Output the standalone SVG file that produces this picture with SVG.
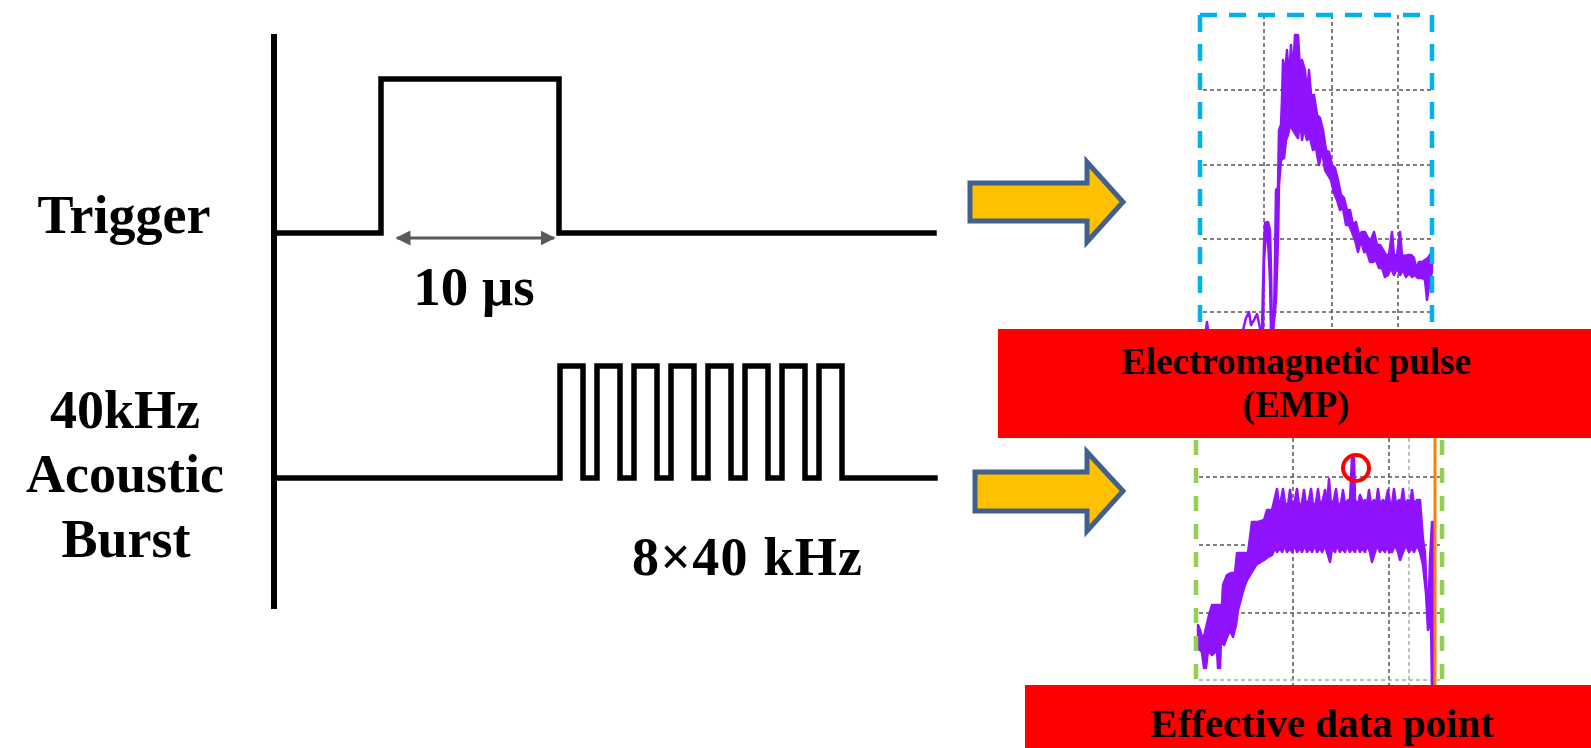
<svg xmlns="http://www.w3.org/2000/svg" width="1591" height="748" viewBox="0 0 1591 748">
<defs>
<style>
.lbl{font-family:"Liberation Serif","Times New Roman",serif;font-weight:bold;fill:#000;text-anchor:middle}
.wave{fill:none;stroke:#000;stroke-width:5.5;stroke-linejoin:miter;stroke-linecap:square}
.grid{stroke:#555;stroke-width:1.5;stroke-dasharray:4 3;fill:none}
.gridl{stroke:#aaa;stroke-width:1.5;stroke-dasharray:4 3;fill:none}
.trace{fill:#9013FE;stroke:#9013FE;stroke-width:2.5;stroke-linejoin:round}
.thin{fill:none;stroke:#9013FE;stroke-width:2.5;stroke-linejoin:round}
.bigarrow{fill:#FFC000;stroke:#41618C;stroke-width:5;stroke-linejoin:miter}
.redbox{fill:#FF0000}
</style>
<marker id="ah" viewBox="0 0 10 10" refX="9" refY="5" markerWidth="5" markerHeight="5" orient="auto-start-reverse" markerUnits="strokeWidth">
<path d="M0,0 L10,5 L0,10 z" fill="#595959"/>
</marker>
</defs>
<rect width="1591" height="748" fill="#fff"/>

<g id="timing">
<line x1="274" y1="34" x2="274" y2="609" stroke="#000" stroke-width="6"/>
<path id="trigger-wave" class="wave" d="M274,233 H381 V79 H559 V233 H934"/>
<path id="burst-wave" class="wave" d="M274,478 H560 V366 H583 V478 H597 V366 H620 V478 H634 V366 H657 V478 H671 V366 H694 V478 H708 V366 H731 V478 H745 V366 H768 V478 H782 V366 H805 V478 H819 V366 H842 V478 H935"/>
</g>

<g id="connectors">
<line x1="397" y1="238" x2="554" y2="238" stroke="#595959" stroke-width="3" marker-start="url(#ah)" marker-end="url(#ah)"/>
<path id="arrow-top" class="bigarrow" d="M970,183 H1087 V162 L1123,202 L1087,242 V221 H970 Z"/>
<path id="arrow-bottom" class="bigarrow" d="M975,472 H1087 V452 L1123,491 L1087,531 V511 H975 Z"/>
</g>

<g id="labels">
<text class="lbl" x="124" y="233" font-size="54">Trigger</text>
<text class="lbl" x="125" y="428" font-size="54">40kHz</text>
<text class="lbl" x="125" y="492" font-size="54">Acoustic</text>
<text class="lbl" x="126" y="557" font-size="54">Burst</text>
<text class="lbl" x="474" y="305" font-size="55">10 μs</text>
<text class="lbl" x="747" y="575" font-size="54" textLength="230">8×40 kHz</text>
</g>

<g id="emp-plot">
<line class="grid" x1="1264" y1="15" x2="1264" y2="330"/>
<line class="grid" x1="1332" y1="15" x2="1332" y2="330"/>
<line class="grid" x1="1398" y1="15" x2="1398" y2="330"/>
<line class="grid" x1="1203" y1="90" x2="1432" y2="90"/>
<line class="grid" x1="1203" y1="165" x2="1432" y2="165"/>
<line class="grid" x1="1203" y1="239" x2="1432" y2="239"/>
<line class="grid" x1="1203" y1="312" x2="1432" y2="312"/>
<polyline class="thin" points="1206,330 1207,322 1208,330"/>
<polyline class="thin" points="1243,330 1246,318 1249,312 1251,325 1254,320 1257,314 1260,328 1262,330"/>
<polygon class="trace" points="1262,330 1264,245 1265,223 1268,222 1270,230 1271,270 1272,333 1274,320 1275,260 1276,190 1278,188 1279,130 1281,125 1282,100 1283,60 1285,75 1287,50 1289,80 1291,45 1293,75 1295,35 1298,35 1300,70 1302,60 1305,70 1307,95 1309,70 1311,95 1314,95 1317,115 1320,118 1323,130 1326,150 1329,152 1332,165 1335,168 1338,180 1341,195 1344,198 1347,210 1350,210 1353,225 1356,222 1359,235 1362,232 1365,232 1368,238 1371,240 1374,232 1377,245 1380,245 1383,250 1386,255 1389,255 1392,232 1394,255 1397,255 1400,232 1402,255 1405,256 1408,255 1411,255 1414,258 1416,268 1419,262 1422,262 1425,260 1428,258 1430,255 1432,252 1432,272 1429,285 1427,300 1425,280 1422,278 1418,278 1415,275 1412,277 1409,273 1406,277 1403,270 1400,275 1397,268 1394,275 1391,268 1388,275 1385,277 1382,268 1379,268 1376,260 1373,262 1370,262 1367,252 1364,252 1361,240 1358,252 1355,240 1352,232 1349,225 1346,225 1343,208 1340,210 1337,200 1334,193 1331,180 1328,175 1325,170 1322,150 1319,165 1316,148 1313,150 1310,138 1307,140 1304,128 1302,140 1300,120 1298,138 1296,135 1293,130 1290,125 1288,135 1286,140 1284,158 1281,160 1279,185 1278,240 1276,300 1273,333 1271,333 1270,280 1268,240 1266,235 1264,260 1263,330"/>
<path d="M1200,15 H1432 M1200,15 V335 M1432,15 V335" fill="none" stroke="#00B0F0" stroke-width="4.5" stroke-dasharray="17 12"/>
</g>

<g id="acoustic-plot">
<line class="grid" x1="1293" y1="438" x2="1293" y2="685"/>
<line class="grid" x1="1389" y1="438" x2="1389" y2="685"/>
<line class="gridl" x1="1409" y1="438" x2="1409" y2="685"/>
<line class="grid" x1="1199" y1="477" x2="1440" y2="477"/>
<line class="grid" x1="1199" y1="545" x2="1440" y2="545"/>
<line class="grid" x1="1199" y1="613" x2="1440" y2="613"/>
<line class="gridl" x1="1199" y1="680" x2="1440" y2="680"/>
<polygon class="trace" points="1198,625 1200,630 1203,640 1206,628 1209,615 1212,605 1217,605 1222,605 1223,585 1227,575 1231,573 1235,573 1237,553 1244,553 1248,553 1252,522 1258,522 1264,520 1267,510 1272,510 1277,489 1279,505 1281,500 1283,489 1285,503 1288,505 1290,490 1292,505 1295,500 1297,489 1299,505 1302,503 1304,490 1306,505 1309,500 1311,489 1313,505 1316,503 1318,489 1320,505 1323,500 1325,490 1327,505 1329,479 1331,505 1334,500 1336,489 1338,505 1341,503 1343,490 1345,505 1348,500 1350,500 1352,457 1354,457 1355,500 1358,505 1360,495 1363,503 1365,500 1367,505 1369,490 1371,505 1374,500 1376,505 1378,489 1380,505 1383,500 1385,505 1388,490 1390,503 1392,505 1394,489 1396,505 1399,500 1401,503 1403,489 1405,505 1408,500 1410,505 1412,490 1414,505 1417,500 1420,500 1423,540 1425,553 1427,600 1428,625 1430,560 1432,522 1434,522 1434,690 1432,690 1431,620 1428,630 1426,593 1423,565 1420,552 1417,545 1414,552 1412,548 1409,552 1406,545 1403,552 1400,560 1398,552 1395,545 1392,552 1389,552 1387,545 1385,552 1382,548 1380,552 1377,545 1375,552 1372,562 1370,552 1367,545 1365,552 1362,548 1360,552 1357,545 1355,552 1352,548 1350,552 1347,545 1345,552 1342,548 1340,552 1337,545 1335,552 1332,548 1330,562 1327,552 1325,545 1322,552 1320,548 1317,552 1315,545 1312,552 1310,548 1307,552 1305,545 1302,552 1300,548 1297,552 1295,545 1292,552 1290,548 1287,552 1285,545 1282,552 1280,548 1277,552 1275,548 1272,555 1268,557 1264,560 1259,563 1256,565 1253,570 1250,575 1247,580 1245,585 1242,595 1240,603 1238,610 1236,625 1233,637 1230,630 1227,637 1224,645 1221,640 1220,668 1218,668 1217,650 1212,655 1208,650 1206,668 1204,668 1202,652 1198,648"/>
<line x1="1435" y1="438" x2="1435" y2="690" stroke="#FF8000" stroke-width="3"/>
<path d="M1196,440 V690 M1442,440 V690" fill="none" stroke="#92D050" stroke-width="4.5" stroke-dasharray="15 13"/>
<circle id="peak-marker" cx="1356" cy="468" r="13" fill="none" stroke="#FF0000" stroke-width="4"/>
</g>

<g id="emp-label">
<rect class="redbox" x="998" y="329" width="593" height="109"/>
<text class="lbl" x="1296" y="374" font-size="37">Electromagnetic pulse</text>
<text class="lbl" x="1296" y="417" font-size="37">(EMP)</text>
</g>

<g id="effective-label">
<rect class="redbox" x="1025" y="685" width="566" height="63"/>
<text class="lbl" x="1322" y="737" font-size="41">Effective data point</text>
</g>
</svg>
